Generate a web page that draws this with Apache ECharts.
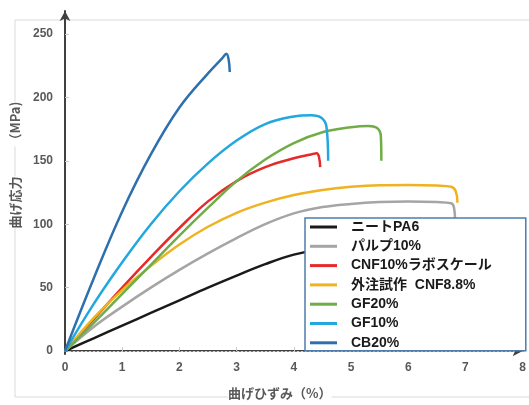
<!DOCTYPE html>
<html>
<head>
<meta charset="utf-8">
<script src="https://cdn.jsdelivr.net/npm/echarts@6/dist/echarts.min.js"></script>
<style>
html,body{margin:0;padding:0;background:#fff;}
#c{width:529px;height:405px;}
</style>
</head>
<body>
<div id="c"></div>
<script>
// ---- data ----
const seriesNames = ['ニートPA6', 'パルプ10%', 'CNF10%ラボスケール', '外注試作  CNF8.8%', 'GF20%', 'GF10%', 'CB20%'];
const xTicks = [0, 1, 2, 3, 4, 5, 6, 7, 8];
const yTicks = [0, 50, 100, 150, 200, 250];

const pa6X = [0, 0.5, 1, 1.5, 2, 2.5, 3, 3.5, 4, 4.5, 5, 5.5, 6, 6.5, 7, 7.5, 8];
const pa6Y = [0, 10, 20, 30, 40, 50, 59.5, 68.5, 76, 80.5, 82.5, 83.5, 84, 84, 84, 84, 84];

const pulpX = [0, 0.5, 1, 1.5, 2, 2.5, 3, 3.5, 4, 4.5, 5, 5.5, 6, 6.5, 6.75, 6.8, 6.82];
const pulpY = [0, 19, 35, 50, 64, 77, 89, 100, 108.5, 113.5, 116, 117.5, 118, 117.5, 116.5, 113, 100];

const cnfLabX = [0, 0.5, 1, 1.5, 2, 2.5, 3, 3.5, 4, 4.3, 4.4, 4.44, 4.46];
const cnfLabY = [0, 25, 50, 74, 97, 118, 134, 145, 152, 155, 156, 153, 145];

const cnfOutX = [0, 0.5, 1, 1.5, 2, 2.5, 3, 3.5, 4, 4.5, 5, 5.5, 6, 6.5, 6.75, 6.83, 6.86];
const cnfOutY = [0, 26, 48, 67, 84, 98, 109, 117, 123, 127, 129.5, 130.8, 131, 130.5, 129.5, 126, 117];

const gf20X = [0, 0.5, 1, 1.5, 2, 2.5, 3, 3.5, 4, 4.5, 5, 5.3, 5.45, 5.52, 5.53];
const gf20Y = [0, 22, 45, 68, 91, 113, 134, 151, 164, 172.5, 176.5, 177.5, 176, 170, 150];

const gf10X = [0, 0.5, 1, 1.5, 2, 2.5, 3, 3.5, 4, 4.3, 4.48, 4.57, 4.6];
const gf10Y = [0, 37, 70, 100, 126, 148, 166, 179, 185, 186, 184, 177, 150];

const cb20X = [0, 0.5, 1, 1.5, 2, 2.5, 2.75, 2.82, 2.86, 2.88];
const cb20Y = [0, 57, 110, 155, 192, 219, 231, 234.5, 230, 220];

const colors = ['#1a1a1a', '#a5a5a5', '#e52a2a', '#efb322', '#70ad47', '#22a7df', '#2e6fae'];

const allX = [pa6X, pulpX, cnfLabX, cnfOutX, gf20X, gf10X, cb20X];
const allY = [pa6Y, pulpY, cnfLabY, cnfOutY, gf20Y, gf10Y, cb20Y];

function zip(xs, ys) { return xs.map((x, i) => [x, ys[i]]); }

const labelFont = 'Liberation Sans, Arial, Noto Sans CJK JP, sans-serif';
const cjkFont = 'Noto Sans CJK JP, sans-serif';

const chart = echarts.init(document.getElementById('c'), null, {renderer: 'canvas'});

const series = seriesNames.map((name, i) => ({
  name: name,
  type: 'line',
  xAxisIndex: 0,
  yAxisIndex: 0,
  data: zip(allX[i], allY[i]),
  smooth: 0.4,
  symbol: 'none',
  showSymbol: false,
  lineStyle: {color: colors[i], width: 2.5},
  itemStyle: {color: colors[i]},
  z: 2
}));

chart.setOption({
  animation: false,
  backgroundColor: '#fff',
  graphic: [{
    type: 'rect',
    z: -10,
    shape: {x: 15, y: 20, width: 530, height: 377},
    style: {fill: 'none', stroke: '#d9d9d9', lineWidth: 1}
  }],
  grid: [
    {left: 65, right: 1, top: 34, bottom: 51},
    {left: 65, right: 1, top: 11, bottom: 51}
  ],
  xAxis: [
    {
      type: 'value', gridIndex: 0, min: 0, max: 8, interval: 1,
      axisLine: {show: true, lineStyle: {color: '#404040', width: 2}, symbol: ['none', 'arrow'], symbolSize: [8, 10]},
      axisTick: {show: true, inside: true, length: 4, lineStyle: {color: '#c8c8c8'}},
      splitLine: {show: false},
      axisLabel: {color: '#595959', fontSize: 12, fontWeight: 'bold', fontFamily: labelFont, margin: 11},
      name: '{a|曲げひずみ（%）}{p| }',
      nameLocation: 'middle',
      nameGap: 36,
      nameTextStyle: {
        rich: {
          a: {color: '#595959', fontSize: 13, fontWeight: 'bold', fontFamily: cjkFont, backgroundColor: '#fff'},
          p: {width: 28, fontSize: 13}
        }
      }
    },
    {
      type: 'value', gridIndex: 0, min: 0, max: 8, position: 'top',
      axisLine: {show: true, lineStyle: {color: '#cfcfcf', width: 1, type: [2, 2]}},
      axisTick: {show: false}, axisLabel: {show: false}, splitLine: {show: false}
    },
    {
      type: 'value', gridIndex: 1, min: 0, max: 8, show: false
    }
  ],
  yAxis: [
    {
      type: 'value', gridIndex: 0, min: 0, max: 250, interval: 50,
      axisLine: {show: false},
      axisTick: {show: true, inside: true, length: 4, lineStyle: {color: '#c8c8c8'}},
      splitLine: {show: false},
      axisLabel: {color: '#595959', fontSize: 12, fontWeight: 'bold', fontFamily: labelFont, margin: 12},
      name: '{p| }{a|曲げ応力}{s| }{b|（MPa)}',
      nameLocation: 'middle',
      nameRotate: 90,
      nameGap: 43,
      nameTextStyle: {
        rich: {
          p: {width: 55, fontSize: 13},
          a: {color: '#595959', fontSize: 13, fontWeight: 'bold', fontFamily: cjkFont, backgroundColor: '#fff'},
          s: {width: 30, fontSize: 13},
          b: {color: '#595959', fontSize: 13, fontWeight: 'bold', fontFamily: cjkFont, backgroundColor: '#fff'}
        }
      }
    },
    {
      type: 'value', gridIndex: 0, min: 0, max: 250, position: 'right',
      axisLine: {show: true, lineStyle: {color: '#cfcfcf', width: 1, type: [2, 2]}},
      axisTick: {show: false}, axisLabel: {show: false}, splitLine: {show: false}
    },
    {
      type: 'value', gridIndex: 1, min: 0, max: 250,
      axisLine: {show: true, lineStyle: {color: '#404040', width: 2}, symbol: ['none', 'arrow'], symbolSize: [8, 10]},
      axisTick: {show: false}, axisLabel: {show: false}, splitLine: {show: false}
    }
  ],
  legend: {
    orient: 'vertical',
    left: 305,
    top: 218,
    padding: [1, 34, 0, 5],
    itemGap: 3.3,
    itemWidth: 27,
    itemHeight: 3,
    icon: 'rect',
    backgroundColor: '#fff',
    borderColor: '#4f7cab',
    borderWidth: 1.5,
    borderRadius: 0,
    z: 10,
    textStyle: {color: '#1a1a1a', fontSize: 14, fontWeight: 'bold', fontFamily: labelFont, lineHeight: 16, padding: [0, 0, 0, 9]},
    data: seriesNames
  },
  series: series
});
</script>
</body>
</html>
